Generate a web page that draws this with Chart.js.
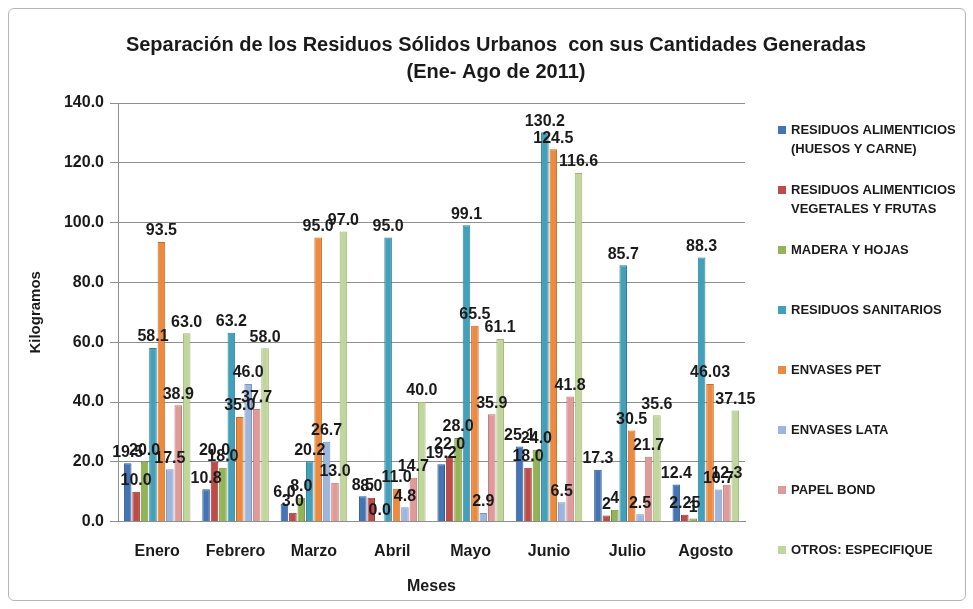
<!DOCTYPE html>
<html><head><meta charset="utf-8">
<script src="https://cdn.jsdelivr.net/npm/chart.js@4/dist/chart.umd.min.js"></script>
<style>
html,body{margin:0;padding:0;background:#fff;}
#wrap{position:absolute;left:0;top:0;width:973px;height:609px;}
#frame{position:absolute;left:8px;top:8px;width:958px;height:593px;border:1px solid #b5b5b5;border-radius:6px;box-sizing:border-box;}
canvas{position:absolute;left:0;top:0;}
</style></head>
<body><div id="wrap"><div id="frame"></div><canvas id="c" width="973" height="609"></canvas></div>
<script>
const months = ['Enero','Febrero','Marzo','Abril','Mayo','Junio','Julio','Agosto'];
const yTicks = [0,20,40,60,80,100,120,140];
const titleLines = ['Separación de los Residuos Sólidos Urbanos  con sus Cantidades Generadas','(Ene- Ago de 2011)'];
const seriesNames = [
  ['RESIDUOS ALIMENTICIOS','(HUESOS Y CARNE)'],
  ['RESIDUOS ALIMENTICIOS','VEGETALES Y FRUTAS'],
  ['MADERA Y HOJAS'],
  ['RESIDUOS SANITARIOS'],
  ['ENVASES PET'],
  ['ENVASES LATA'],
  ['PAPEL BOND'],
  ['OTROS: ESPECIFIQUE']
];
const huesosCarne     = ['19.5','10.8','6.0','8.5','19.2','25.1','17.3','12.4'];
const vegetalesFrutas = ['10.0','20.0','3.0','8.0','22.0','18.0','2','2.25'];
const maderaHojas     = ['20.0','18.0','8.0','0.0','28.0','24.0','4','1'];
const sanitarios      = ['58.1','63.2','20.2','95.0','99.1','130.2','85.7','88.3'];
const envasesPet      = ['93.5','35.0','95.0','11.0','65.5','124.5','30.5','46.03'];
const envasesLata     = ['17.5','46.0','26.7','4.8','2.9','6.5','2.5','10.7'];
const papelBond       = ['38.9','37.7','13.0','14.7','35.9','41.8','21.7','12.3'];
const otros           = ['63.0','58.0','97.0','40.0','61.1','116.6','35.6','37.15'];

const seriesValues = [huesosCarne,vegetalesFrutas,maderaHojas,sanitarios,envasesPet,envasesLata,papelBond,otros];
const fillColors = ['#4474b4','#be4b48','#93b455','#43a0ba','#ec8a3f','#9db6de','#df9a99','#c1d69c'];
const edgeColors = ['#2f5a92','#963432','#728f3c','#2f7f96','#c96c26','#7d95bd','#bb7876','#9fb478'];

const FONT = "'Liberation Sans', Arial, sans-serif";
const TXT = '#1a1a1a';

const datasets = seriesValues.map((vals,i)=>({
  label: seriesNames[i].join(' '),
  data: vals.map(Number),
  labelText: vals,
  backgroundColor: fillColors[i],
  borderColor: edgeColors[i],
  borderWidth: 1,
  categoryPercentage: 0.86,
  barPercentage: 0.9
}));

const valueLabels = {
  id:'valueLabels',
  afterDatasetsDraw(chart){
    const ctx = chart.ctx;
    ctx.save();
    ctx.font = 'bold 16px ' + FONT;
    ctx.fillStyle = TXT;
    ctx.textAlign = 'center';
    ctx.textBaseline = 'bottom';
    chart.data.datasets.forEach((ds,i)=>{
      chart.getDatasetMeta(i).data.forEach((bar,j)=>{
        ctx.fillText(ds.labelText[j], bar.x, bar.y - 3);
      });
    });
    ctx.restore();
  }
};

const titleAndLegend = {
  id:'titleAndLegend',
  afterDraw(chart){
    const ctx = chart.ctx;
    ctx.save();
    ctx.fillStyle = TXT;
    ctx.textBaseline = 'middle';
    ctx.textAlign = 'center';
    ctx.font = 'bold 20px ' + FONT;
    titleLines.forEach((t,k)=> ctx.fillText(t, 496, 45 + k*27));
    ctx.font = 'bold 13px ' + FONT;
    ctx.textAlign = 'left';
    seriesNames.forEach((lines,i)=>{
      const y = 130 + 60*i;
      ctx.fillStyle = fillColors[i];
      ctx.fillRect(778, y-4, 8, 8);
      ctx.fillStyle = TXT;
      lines.forEach((t,k)=> ctx.fillText(t, 791, y + k*19));
    });
    ctx.restore();
  }
};

new Chart(document.getElementById('c'), {
  type:'bar',
  data:{ labels: months, datasets },
  options:{
    responsive:false,
    animation:false,
    layout:{ padding:{ left:27, right:228, top:103, bottom:13 } },
    plugins:{
      legend:{ display:false },
      tooltip:{ enabled:false },
      title:{ display:false }
    },
    scales:{
      x:{
        grid:{ display:false },
        border:{ color:'#8e8e8e' },
        ticks:{ color:TXT, font:{ family:FONT, size:16, weight:'bold' }, padding:12 },
        title:{ display:true, text:'Meses', color:TXT, font:{ family:FONT, size:16, weight:'bold' }, padding:{ top:4, bottom:0 } }
      },
      y:{
        min:0, max:140,
        afterBuildTicks(scale){ scale.ticks = yTicks.map(v=>({value:v})); },
        afterFit(scale){ scale.width = 91; },
        grid:{ color:'#8e8e8e', tickLength:8 },
        border:{ color:'#8e8e8e' },
        ticks:{ color:TXT, font:{ family:FONT, size:16, weight:'bold' }, padding:6, callback:v=>Number(v).toFixed(1) },
        title:{ display:true, text:'Kilogramos', color:TXT, font:{ family:FONT, size:15, weight:'bold' }, padding:{ top:0, bottom:4 } }
      }
    }
  },
  plugins:[valueLabels, titleAndLegend]
});
</script>
</body></html>
